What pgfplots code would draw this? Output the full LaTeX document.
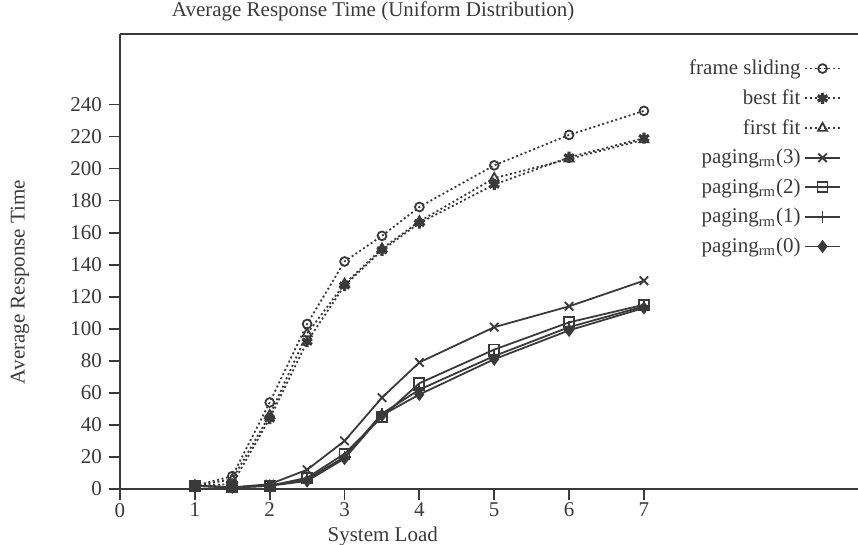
\documentclass[border=0pt]{standalone}
\usepackage{fontspec}
\setmainfont{Liberation Serif}
\usepackage{pgfplots}
\pgfplotsset{compat=1.18}
\definecolor{ink}{HTML}{3A3A3A}
\begin{document}
\begin{tikzpicture}
\begin{axis}[
  scale only axis,
  width=369pt, height=227.5pt,
  xmin=0, xmax=9.86, ymin=0, ymax=284,
  axis x line=box, axis y line=left,
  axis line style={-, line width=1pt, ink},
  xtick={0,1,2,3,4,5,6,7},
  ytick={0,20,40,60,80,100,120,140,160,180,200,220,240},
  xtick pos=bottom, ytick pos=left,
  tick align=outside, major tick length=5.5pt,
  tick style={line width=0.9pt, ink},
  /pgf/number format/assume math mode=true,
  tick label style={font=\fontsize{10.5}{12}\selectfont, text=ink},
  xticklabel style={yshift=2pt},
  title={Average Response Time (Uniform Distribution)},
  title style={at={(axis description cs:0.343,1)}, anchor=base, yshift=2.5pt, inner sep=0pt, font=\fontsize{10.5}{12}\selectfont, text=ink},
  xlabel={System Load},
  xlabel style={at={(ticklabel cs:0.356)}, anchor=north, yshift=-0.5pt, inner sep=1pt, font=\fontsize{10.5}{12}\selectfont, text=ink},
  ylabel={Average Response Time},
  ylabel style={at={(axis description cs:-0.1355,0.455)}, anchor=center, font=\fontsize{10.5}{12}\selectfont, text=ink},
  legend plot pos=right,
  legend cell align=right,
  legend style={at={(axis description cs:0.985,0.962)}, anchor=north east, draw=none, fill=none,
    font=\fontsize{10.5}{12}\selectfont, text=ink, row sep=2pt},
  every axis plot/.append style={ink, line width=0.9pt},
  clip=false,
]
\addplot[dash pattern=on 1pt off 1.3pt, mark=o, mark size=2.2pt, mark options={solid, line width=0.9pt}]
  coordinates {(1,2) (1.5,8) (2,54) (2.5,103) (3,142) (3.5,158) (4,176) (5,202) (6,221) (7,236)};
\addlegendentry{frame sliding}
\addplot[dash pattern=on 1pt off 1.3pt, mark=asterisk, mark size=2.8pt, mark options={solid, line width=1.6pt}]
  coordinates {(1,2) (1.5,3) (2,44) (2.5,92) (3,127) (3.5,149) (4,166) (5,190) (6,207) (7,219)};
\addlegendentry{best fit}
\addplot[dash pattern=on 1pt off 1.3pt, mark=triangle, mark size=2.6pt, mark options={solid, line width=0.9pt}]
  coordinates {(1,2) (1.5,6) (2,46) (2.5,97) (3,128) (3.5,150) (4,167) (5,194) (6,206) (7,218)};
\addlegendentry{first fit}
\addplot[mark=x, mark size=3pt, mark options={solid}]
  coordinates {(1,2) (1.5,1) (2,3) (2.5,12) (3,30) (3.5,57) (4,79) (5,101) (6,114) (7,130)};
\addlegendentry{paging\textsubscript{rm}(3)}
\addplot[mark=square, mark size=2.5pt, mark options={solid}]
  coordinates {(1,2) (1.5,1) (2,2) (2.5,7) (3,22) (3.5,45) (4,66) (5,87) (6,104) (7,115)};
\addlegendentry{paging\textsubscript{rm}(2)}
\addplot[mark=+, mark size=3pt, mark options={solid}]
  coordinates {(1,2) (1.5,1) (2,2) (2.5,6) (3,20) (3.5,47) (4,62) (5,83) (6,101) (7,114)};
\addlegendentry{paging\textsubscript{rm}(1)}
\addplot[mark=diamond*, mark size=2.6pt, mark options={solid}]
  coordinates {(1,2) (1.5,1) (2,2) (2.5,5) (3,19) (3.5,46) (4,59) (5,81) (6,99) (7,113)};
\addlegendentry{paging\textsubscript{rm}(0)}
\coordinate (bbA) at (axis description cs:-0.1626,-0.1231);
\coordinate (bbB) at (axis description cs:1,1.0747);
\end{axis}
\pgfresetboundingbox
\path[use as bounding box] (bbA) rectangle (bbB);
\end{tikzpicture}
\end{document}
